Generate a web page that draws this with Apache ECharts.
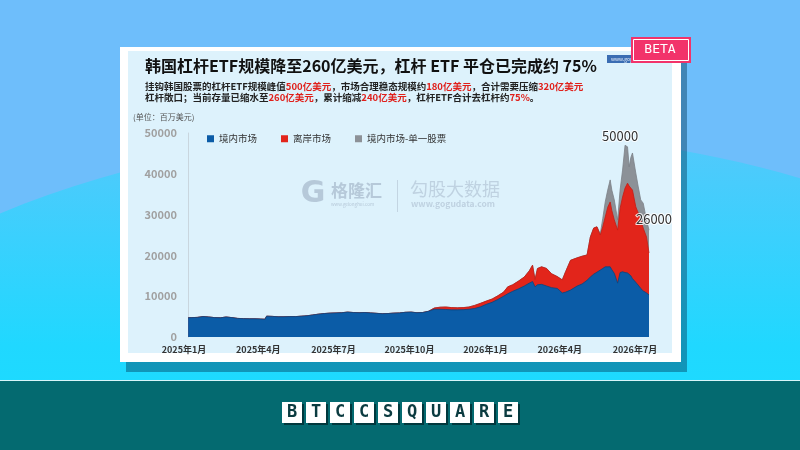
<!DOCTYPE html>
<html><head><meta charset="utf-8">
<script src="https://cdn.jsdelivr.net/npm/echarts@6/dist/echarts.min.js"></script>
<style>html,body{margin:0;padding:0;width:800px;height:450px;overflow:hidden}#c{width:800px;height:450px}</style>
</head><body><div id="c"></div>
<script>
// ---- data (百万美元) ----
const dates = [
'2025-01-06','2025-01-10','2025-01-17','2025-01-24','2025-01-31','2025-02-07','2025-02-14','2025-02-21','2025-02-28',
'2025-03-07','2025-03-14','2025-03-21','2025-03-28','2025-04-04','2025-04-09','2025-04-11','2025-04-18','2025-04-25',
'2025-05-02','2025-05-09','2025-05-16','2025-05-23','2025-05-30','2025-06-06','2025-06-13','2025-06-20','2025-06-27',
'2025-07-04','2025-07-11','2025-07-18','2025-07-25','2025-08-01','2025-08-08','2025-08-15','2025-08-22','2025-08-29',
'2025-09-05','2025-09-12','2025-09-19','2025-09-26','2025-10-03','2025-10-10','2025-10-17','2025-10-24','2025-10-31',
'2025-11-07','2025-11-14','2025-11-21','2025-11-28','2025-12-05','2025-12-12','2025-12-19','2025-12-26',
'2026-01-02','2026-01-09','2026-01-16','2026-01-23','2026-01-28','2026-02-03','2026-02-10','2026-02-17','2026-02-23',
'2026-02-27','2026-03-02','2026-03-05','2026-03-10','2026-03-16','2026-03-22','2026-03-29','2026-04-04','2026-04-08',
'2026-04-14','2026-04-22','2026-04-28','2026-05-04','2026-05-08','2026-05-12','2026-05-16','2026-05-20','2026-05-23',
'2026-05-26','2026-05-29','2026-06-01','2026-06-03','2026-06-06','2026-06-10','2026-06-13','2026-06-16','2026-06-19',
'2026-06-22','2026-06-24','2026-06-26','2026-06-28','2026-07-02','2026-07-05','2026-07-08','2026-07-11','2026-07-15','2026-07-18'
];
const domestic = [
4700,4750,4800,5000,4900,4750,4700,4900,4750,
4550,4500,4450,4450,4400,4350,5100,5050,4950,
4950,5000,5000,5100,5200,5400,5600,5750,5850,
5900,5950,6100,6000,5950,6000,5900,5800,5700,
5750,5850,5900,6050,6100,5950,6000,6300,6800,
6800,6750,6650,6650,6700,6800,7000,7400,
8000,8500,9200,10000,10600,11200,11800,12500,13200,
13600,12300,12800,12900,12500,12100,11900,10800,11000,
11500,12500,13000,13900,14700,15400,15900,16400,16800,
17200,17200,17200,16500,15600,13200,15800,16000,15800,
15700,15600,15000,14300,13400,12700,11900,11300,10800,10300
];
const offshore = [
0,0,0,0,0,0,0,0,0,
0,0,0,0,0,0,0,0,0,
0,0,0,0,0,0,0,0,0,
0,0,0,0,0,0,0,0,0,
0,0,0,0,0,0,0,0,300,
500,600,550,500,500,550,750,850,
800,800,900,1000,1700,1600,1900,2200,3000,
4000,1800,4000,4300,4300,3400,2900,3200,5000,
7300,6900,6800,6200,9800,11300,11100,8600,10200,
12200,14600,15900,14500,13100,13000,15700,18300,20700,
22000,21400,21500,21700,18500,17700,16800,15400,13700,10300
];
const singleStock = [
0,0,0,0,0,0,0,0,0,
0,0,0,0,0,0,0,0,0,
0,0,0,0,0,0,0,0,0,
0,0,0,0,0,0,0,0,0,
0,0,0,0,0,0,0,0,0,
0,0,0,0,0,0,0,0,
0,0,0,0,0,0,0,0,0,
0,0,0,0,0,0,0,0,0,
0,0,0,0,0,0,0,300,2000,
3700,4200,5400,5000,4900,2500,4500,6600,10500,
8900,4700,7500,9100,8300,6400,4900,6100,4200,5600
];
const seriesNames = ['境内市场','离岸市场','境内市场-单一股票'];
const tickDates = ['2025-01-01','2025-04-01','2025-07-01','2025-10-01','2026-01-01','2026-04-01','2026-07-01'];
const tickLabels = ['2025年1月','2025年4月','2025年7月','2025年10月','2026年1月','2026年4月','2026年7月'];
const yTickValues = [0,10000,20000,30000,40000,50000];
const annotations = [
  {date:'2026-06-13', value:50000, text:'50000'},
  {date:'2026-07-18', value:26000, text:'26000'}
];
const titleText = '韩国杠杆ETF规模降至260亿美元，杠杆 ETF 平仓已完成约 75%';
const subText = '挂钩韩国股票的杠杆ETF规模峰值{r|500亿美元}，市场合理稳态规模约{r|180亿美元}，合计需要压缩{r|320亿美元}\n杠杆敞口；当前存量已缩水至{r|260亿美元}，累计缩减{r|240亿美元}，杠杆ETF合计去杠杆约{r|75%}。';
const unitText = '(单位：百万美元)';
const brand = 'BTCCSQUARE';

// ---- build ----
const toTime = s => { const p = s.split('-').map(Number); return new Date(p[0], p[1]-1, p[2]).getTime(); };
const times = dates.map(toTime);
const tickTimes = tickDates.map(toTime);
// cumulative stacking (drawn back-to-front)
const layers = [domestic, offshore, singleStock];
const cumulative = [];
layers.forEach((arr,k)=>{ cumulative.push(arr.map((v,i)=> v + (k ? cumulative[k-1][i] : 0))); });
const pair = arr => times.map((t,i)=>[t, arr[i]]);
const FONT = '"Noto Sans CJK SC","Noto Sans",sans-serif';
const annotationOffsets = [[0,3],[5,-12]];

const chart = echarts.init(document.getElementById('c'), null, {renderer:'canvas'});

const graphics = [
  {type:'rect', z:-20, shape:{x:0,y:0,width:800,height:380}, style:{fill:'#6ebefb'}},
  {type:'ellipse', z:-19, shape:{cx:450, cy:560, rx:760, ry:430},
    style:{fill:new echarts.graphic.LinearGradient(0,0,0,1,[{offset:0,color:'#55c8fb'},{offset:0.25,color:'#20d8ff'},{offset:0.5,color:'#12e2ff'},{offset:1,color:'#12e2ff'}])}},
  {type:'rect', z:-18, shape:{x:0,y:380,width:800,height:70}, style:{fill:'#046a70'}},
  {type:'rect', z:-17, shape:{x:0,y:380,width:800,height:1}, style:{fill:'#d8f6fa'}},
  {type:'rect', z:-16, shape:{x:126,y:56,width:561,height:316}, style:{fill:'rgba(0,55,85,0.42)'}},
  {type:'rect', z:-15, shape:{x:120,y:47,width:561,height:315}, style:{fill:'#ffffff'}},
  {type:'rect', z:-14, shape:{x:128,y:51,width:544,height:302}, style:{fill:'#ddf2fc'}},
  {type:'rect', z:-13, shape:{x:607,y:55,width:56,height:8}, style:{fill:'#3a6db3'}},
  {type:'text', z:-12, x:611, y:59, style:{text:'www.gogudata.com', fill:'#e6eefa', fontSize:5, fontFamily:FONT, verticalAlign:'middle'}},
  {type:'text', z:-12, x:133, y:117, style:{text:unitText, fill:'#555', fontSize:8, fontFamily:FONT, verticalAlign:'middle'}},
  // watermarks
  {type:'text', z:-12, x:313, y:194, style:{text:'G', fill:'#b6c9d9', fontSize:30, fontWeight:'bold', fontFamily:'DejaVu Sans', align:'center', verticalAlign:'middle'}},
  {type:'text', z:-12, x:331, y:191, style:{text:'格隆汇', fill:'#b6c9d9', fontSize:17, fontWeight:'bold', fontFamily:FONT, verticalAlign:'middle'}},
  {type:'text', z:-12, x:331, y:204, style:{text:'www.gelonghui.com', fill:'#b6c9d9', fontSize:4.5, fontFamily:FONT, verticalAlign:'middle'}},
  {type:'rect', z:-12, shape:{x:397,y:180,width:1,height:32}, style:{fill:'#c3d5e2'}},
  {type:'text', z:-12, x:410, y:189, style:{text:'勾股大数据', fill:'#bfd2e1', fontSize:18, fontFamily:FONT, verticalAlign:'middle'}},
  {type:'text', z:-12, x:411, y:204, style:{text:'www.gogudata.com', fill:'#bfd2e1', fontSize:8.5, fontWeight:'bold', fontFamily:FONT, verticalAlign:'middle'}},
  // BETA badge
  {type:'rect', z:50, shape:{x:631,y:37,width:60,height:26}, style:{fill:'#f2336a'}},
  {type:'rect', z:51, shape:{x:633.5,y:39.5,width:55,height:21}, style:{fill:'none', stroke:'#ffffff', lineWidth:1}},
  {type:'text', z:52, x:660, y:50, style:{text:'BETA', fill:'#ffffff', fontSize:13, fontFamily:'DejaVu Sans Mono', align:'center', verticalAlign:'middle'}}
];
brand.split('').forEach((ch,i)=>{
  const x0 = 282 + i*24;
  graphics.push({type:'rect', z:-10, shape:{x:x0+2,y:404,width:20,height:21}, style:{fill:'#01383d'}});
  graphics.push({type:'rect', z:-9, shape:{x:x0,y:402,width:20,height:21}, style:{fill:'#ffffff'}});
  graphics.push({type:'text', z:-8, x:x0+10, y:413, style:{text:ch, fill:'#0b3b40', fontSize:17, fontWeight:'bold', fontFamily:'DejaVu Sans Mono', align:'center', verticalAlign:'middle'}});
});

const colors = ['#0b5ca7','#e2251b','#8c9197'];
const lineColors = ['#08457f','#c51d14','#7b8086'];

const series = seriesNames.map((name,i)=>({
  name, type:'line', data: pair(cumulative[i]), z: 10 - i,
  symbol:'none', showSymbol:false, smooth:false,
  lineStyle:{width:0.8, color:lineColors[i]},
  areaStyle:{color:colors[i], opacity:1, origin:'start'},
  itemStyle:{color:colors[i]},
  emphasis:{disabled:true}
}));
series[0].markPoint = {
  symbol:'rect', symbolSize:1, itemStyle:{color:'rgba(0,0,0,0)'}, z:20,
  label:{show:true, position:'inside', color:'#333', fontSize:13, fontFamily:FONT,
    textBorderColor:'rgba(255,255,255,0.85)', textBorderWidth:2, formatter:p=>p.name},
  data: annotations.map((a,i)=>({name:a.text, coord:[toTime(a.date), a.value], label:{offset:annotationOffsets[i]}}))
};

const labelFor = v => { let k=0,b=Infinity; tickTimes.forEach((t,i)=>{const d=Math.abs(t-v); if(d<b){b=d;k=i;}}); return tickLabels[k]; };

chart.setOption({
  animation:false,
  backgroundColor:'transparent',
  textStyle:{fontFamily:FONT},
  graphic:{elements:graphics},
  title:[
    {text:titleText, left:145, top:58, padding:0, textStyle:{fontSize:16, fontWeight:'bold', color:'#111', fontFamily:FONT}},
    {text:subText, left:145, top:81, padding:0, textStyle:{fontSize:9.5, color:'#222', lineHeight:11, fontFamily:FONT,
      rich:{r:{color:'#e0201b', fontSize:9.5, lineHeight:11, fontFamily:FONT}}}}
  ],
  legend:{left:202, top:129, itemWidth:7, itemHeight:7, itemGap:24, icon:'rect', data:seriesNames,
    textStyle:{fontSize:9.5, color:'#333', fontFamily:FONT}},
  grid:{left:184, right:151, top:133, bottom:113},
  xAxis:{type:'value', min:tickTimes[0], max:times[times.length-1],
    axisLine:{show:false}, axisTick:{show:false}, splitLine:{show:false},
    axisLabel:{customValues:tickTimes, fontSize:9, fontWeight:'bold', color:'#333', margin:8, hideOverlap:false,
      showMinLabel:true, showMaxLabel:true, formatter:labelFor}},
  yAxis:{type:'value', min:yTickValues[0], max:yTickValues[yTickValues.length-1], interval:yTickValues[1]-yTickValues[0], offset:-4,
    axisLine:{show:true, lineStyle:{color:'#c9d6de'}}, axisTick:{show:false}, splitLine:{show:false},
    axisLabel:{color:'#a0a0a0', fontSize:11, fontWeight:'bold', margin:11, formatter:v=>String(v)}},
  series
});
</script></body></html>
